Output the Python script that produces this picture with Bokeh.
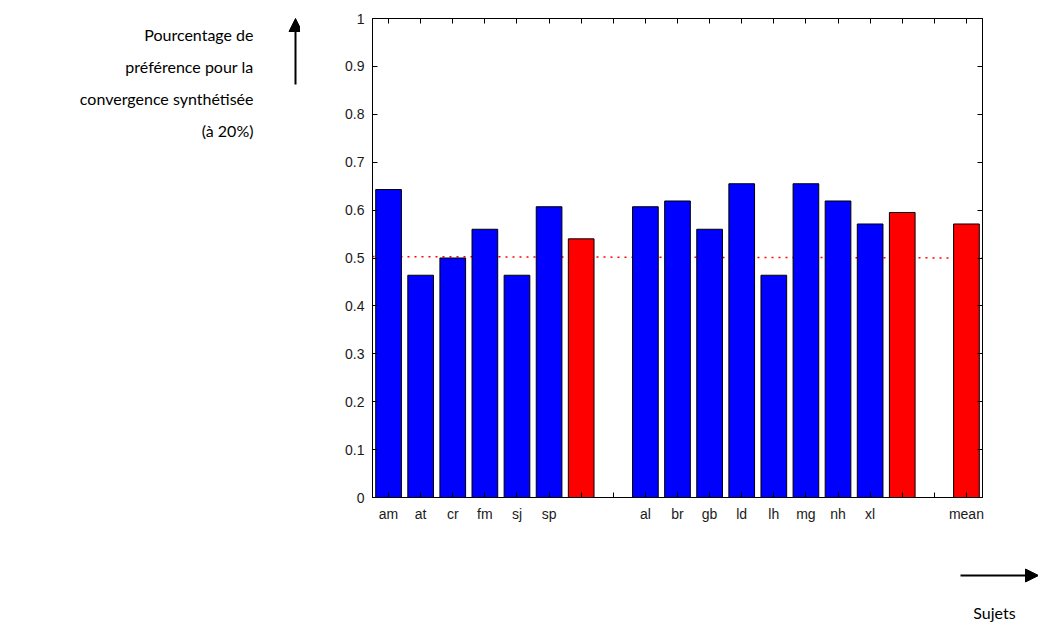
from bokeh.plotting import figure
from bokeh.models import (ColumnDataSource, FixedTicker, LinearAxis, Arrow,
                          NormalHead, Range1d)
from bokeh.layouts import row, column
from bokeh.core.properties import value
from bokeh.embed import file_html
from bokeh.resources import INLINE

# ---- data ----
tick_labels = ["am", "at", "cr", "fm", "sj", "sp", "", "", "al", "br", "gb", "ld",
               "lh", "mg", "nh", "xl", "", "", "mean"]
bar_pos = [1, 2, 3, 4, 5, 6, 7, 9, 10, 11, 12, 13, 14, 15, 16, 17, 19]
bar_val = [0.643, 0.464, 0.500, 0.560, 0.464, 0.607, 0.540,
           0.607, 0.619, 0.560, 0.655, 0.464, 0.655, 0.619, 0.571, 0.595,
           0.571]
bar_kind = ["s", "s", "s", "s", "s", "s", "m",
            "s", "s", "s", "s", "s", "s", "s", "s", "m",
            "m"]
chance_x = [0.5, 19.5]
chance_y = [0.503, 0.500]
y_ticks = [0, 0.1, 0.2, 0.3, 0.4, 0.5, 0.6, 0.7, 0.8, 0.9, 1]
y_tick_text = ["0", "0.1", "0.2", "0.3", "0.4", "0.5", "0.6", "0.7", "0.8", "0.9", "1"]
y_title_lines = ["Pourcentage de", "préférence pour la", "convergence synthétisée", "(à 20%)"]
x_title = "Sujets"

colors = {"s": "#0000ff", "m": "#ff0000"}
src = ColumnDataSource(dict(x=bar_pos, top=bar_val,
                            color=[colors[k] for k in bar_kind]))

LEFT_W = 300
MAIN_W = 1038 - LEFT_W
MAIN_H = 540
BOT_H = 623 - MAIN_H
ann_font = "Lato"


def blank(w, h, xr, yr):
    f = figure(width=w, height=h, output_backend="svg", toolbar_location=None,
               x_range=xr, y_range=yr, x_axis_location=None, y_axis_location=None,
               min_border=0)
    f.xgrid.visible = False
    f.ygrid.visible = False
    f.outline_line_color = None
    f.background_fill_color = "white"
    f.border_fill_color = "white"
    f.frame_align = False
    return f


# ---- left panel: y title + arrow ----
left = blank(LEFT_W, 623, Range1d(0, LEFT_W), Range1d(623, 0))
left.text(x=[253] * 4, y=[34, 66, 98, 130], text=y_title_lines,
          text_align="right", text_baseline="middle",
          text_font=value(ann_font), text_font_size="16px", text_color="black")
left.add_layout(Arrow(x_start=295, y_start=84, x_end=295, y_end=18,
                      line_color="black", line_width=2,
                      end=NormalHead(size=13, fill_color="black", line_color="black")))

# ---- main chart ----
p = figure(width=MAIN_W, height=MAIN_H, output_backend="svg", toolbar_location=None,
           x_range=Range1d(0.5, 19.5), y_range=Range1d(0, 1),
           min_border_left=372 - LEFT_W, min_border_right=56, min_border_top=18,
           min_border_bottom=MAIN_H - 497)
p.frame_align = False
p.xgrid.visible = False
p.ygrid.visible = False
p.outline_line_color = "black"
p.outline_line_width = 1
p.background_fill_color = "white"
p.border_fill_color = "white"

p.line(chance_x, chance_y, line_color="#ff0000", line_dash="2 5", line_width=1.5)
p.vbar(x="x", top="top", bottom=0, width=0.8, fill_color="color",
       line_color="black", line_width=1, source=src)

label_font = "Liberation Sans"
xt = FixedTicker(ticks=list(range(1, 20)))
yt = FixedTicker(ticks=y_ticks)
xover = {i + 1: t for i, t in enumerate(tick_labels)}
yover = {t: s for t, s in zip(y_ticks, y_tick_text)}


def style(ax, labels=True):
    ax.axis_line_color = "black"
    ax.major_tick_line_color = "black"
    ax.major_tick_in = 5
    ax.major_tick_out = 0
    ax.minor_tick_line_color = None
    ax.major_label_text_font = label_font
    ax.major_label_text_font_size = "14px"
    ax.major_label_text_color = "#1a1a1a"
    if not labels:
        ax.major_label_text_font_size = "0px"
        ax.major_label_text_alpha = 0
        ax.major_label_standoff = 0


xa = p.xaxis[0]
xa.ticker = xt
xa.major_label_overrides = xover
xa.major_label_standoff = 8
style(xa)
ya = p.yaxis[0]
ya.ticker = yt
ya.major_label_overrides = yover
ya.major_label_standoff = 8
style(ya)

top_ax = LinearAxis(ticker=xt)
style(top_ax, labels=False)
p.add_layout(top_ax, "above")
right_ax = LinearAxis(ticker=yt)
style(right_ax, labels=False)
p.add_layout(right_ax, "right")

# ---- bottom strip: x title + arrow ----
bottom = blank(MAIN_W, BOT_H, Range1d(LEFT_W, 1038), Range1d(623, MAIN_H))
bottom.add_layout(Arrow(x_start=960, y_start=575, x_end=1038, y_end=575,
                        line_color="black", line_width=2,
                        end=NormalHead(size=13, fill_color="black", line_color="black")))
bottom.text(x=[994], y=[612], text=[x_title], text_align="center",
            text_baseline="middle", text_font=value(ann_font),
            text_font_size="16px", text_color="black")

layout = row(left, column(p, bottom, spacing=0), spacing=0)
open("out.html", "w").write(file_html(layout, INLINE))
